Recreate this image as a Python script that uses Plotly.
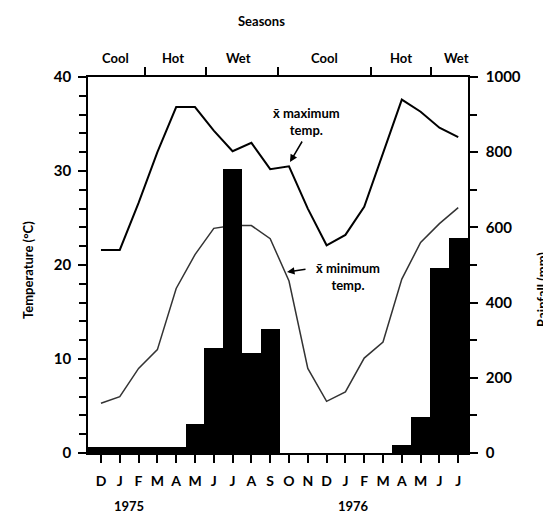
import plotly.graph_objects as go

# ---- data ----
month_labels = ["D", "J", "F", "M", "A", "M", "J", "J", "A", "S",
                "O", "N", "D", "J", "F", "M", "A", "M", "J", "J"]
month_idx = list(range(len(month_labels)))
rainfall_mm = [16, 16, 16, 16, 16, 78, 280, 755, 265, 330,
               0, 0, 0, 0, 0, 0, 22, 95, 492, 572]
max_temp = [21.6, 21.6, 26.6, 32.0, 36.8, 36.8, 34.3, 32.1, 33.0, 30.2,
            30.5, 26.0, 22.1, 23.2, 26.2, 32.0, 37.6, 36.3, 34.6, 33.6]
min_temp = [5.3, 6.0, 9.0, 11.0, 17.5, 21.1, 23.9, 24.2, 24.2, 22.8,
            18.3, 9.0, 5.5, 6.5, 10.1, 11.8, 18.5, 22.4, 24.4, 26.1]
season_names = ["Cool", "Hot", "Wet", "Cool", "Hot", "Wet"]
season_centers = [0.75, 3.85, 7.3, 11.9, 15.95, 18.9]
season_bounds = [2.35, 5.6, 9.4, 14.35, 17.55]
year_labels = ["1975", "1976"]
year_centers = [1.5, 13.45]

FONT = "Lato"
XR = [-0.69, 19.52]
PAGE_OFF = 8  # body margin of the page

# first bar reaches the left axis; others are one month wide, centred
bar_offsets = [XR[0]] + [-0.5] * (len(month_idx) - 1)
bar_widths = [0.5 - XR[0]] + [1.0] * (len(month_idx) - 1)

fig = go.Figure()
fig.add_trace(go.Bar(x=month_idx, y=rainfall_mm, width=bar_widths, offset=bar_offsets,
                     marker=dict(color="black", line=dict(width=0)),
                     yaxis="y2", xaxis="x", showlegend=False))
fig.add_trace(go.Scatter(x=month_idx, y=max_temp, mode="lines",
                         line=dict(color="black", width=2),
                         yaxis="y", xaxis="x", showlegend=False))
fig.add_trace(go.Scatter(x=month_idx, y=min_temp, mode="lines",
                         line=dict(color="#333333", width=1.5),
                         yaxis="y", xaxis="x", showlegend=False))
# invisible trace to activate top axis
fig.add_trace(go.Scatter(x=[XR[0]], y=[0], mode="markers", marker=dict(opacity=0),
                         xaxis="x2", yaxis="y", showlegend=False, hoverinfo="skip"))

fig.update_layout(
    width=551 - PAGE_OFF, height=521 - PAGE_OFF,
    margin=dict(l=88 - PAGE_OFF, r=83, t=77 - PAGE_OFF, b=68),
    paper_bgcolor="white", plot_bgcolor="white",
    font=dict(family=FONT, color="black", size=14),
    bargap=0,
    xaxis=dict(range=XR, tickmode="array", tickvals=month_idx, ticktext=month_labels,
               showgrid=False, zeroline=False, showline=True, linecolor="black",
               linewidth=1.5, ticks="outside", ticklen=8, tickwidth=1.5,
               tickcolor="black", ticklabelstandoff=6,
               tickfont=dict(family=FONT, size=14, weight="bold")),
    xaxis2=dict(range=XR, overlaying="x", side="top", tickmode="array",
                tickvals=season_bounds, showticklabels=False, showgrid=False,
                zeroline=False, showline=True, linecolor="black", linewidth=1.5,
                ticks="outside", ticklen=8, tickwidth=1.5, tickcolor="black"),
    yaxis=dict(range=[0, 40], tickmode="array", tickvals=[0, 10, 20, 30, 40],
               showgrid=False, zeroline=False, showline=True, linecolor="black",
               linewidth=1.5, ticks="outside", ticklen=8, tickwidth=1.5,
               tickcolor="black", ticklabelstandoff=4,
               minor=dict(dtick=2, ticks="outside", ticklen=7, tickwidth=1.5,
                          tickcolor="black", showgrid=False),
               tickfont=dict(family=FONT, size=15, weight="bold")),
    yaxis2=dict(range=[0, 1000], overlaying="y", side="right", tickmode="array",
                tickvals=[0, 200, 400, 600, 800, 1000],
                showgrid=False, zeroline=False, showline=True, linecolor="black",
                linewidth=1.5, ticks="outside", ticklen=8, tickwidth=1.5,
                tickcolor="black", ticklabelstandoff=5,
                minor=dict(dtick=100, ticks="outside", ticklen=7, tickwidth=1.5,
                           tickcolor="black", showgrid=False),
                tickfont=dict(family=FONT, size=15, weight="bold")),
)

ann = []
for name, c in zip(season_names, season_centers):
    ann.append(dict(x=c, y=1.0505, xref="x", yref="paper", text=name, showarrow=False,
                    font=dict(family=FONT, size=13, weight="bold"),
                    xanchor="center", yanchor="middle"))
ann.append(dict(x=(261 - 88) / 380, y=(453 - 21) / 376, xref="paper", yref="paper",
                text="Seasons", showarrow=False,
                font=dict(family=FONT, size=13, weight="bold"),
                xanchor="center", yanchor="middle"))
for yl, c in zip(year_labels, year_centers):
    ann.append(dict(x=c, y=(453 - 506) / 376, xref="x", yref="paper", text=yl,
                    showarrow=False, font=dict(family=FONT, size=13, weight="bold"),
                    xanchor="center", yanchor="middle"))
ann.append(dict(x=(28 - 88) / 380, y=(453 - 270) / 376, xref="paper", yref="paper",
                text="Temperature (°C)", textangle=-90, showarrow=False,
                font=dict(family=FONT, size=13, weight="bold"),
                xanchor="center", yanchor="middle"))
ann.append(dict(x=(542 - 88) / 380, y=(453 - 290) / 376, xref="paper", yref="paper",
                text="Rainfall (mm)", textangle=-90, showarrow=False,
                font=dict(family=FONT, size=13, weight="bold"),
                xanchor="center", yanchor="middle"))
# line labels
ann.append(dict(x=(306 - 88) / 380, y=(453 - 121) / 376, xref="paper", yref="paper",
                text="x̄ maximum<br>temp.", showarrow=False, align="center",
                font=dict(family=FONT, size=13, weight="bold"),
                xanchor="center", yanchor="middle"))
ann.append(dict(x=(348 - 88) / 380, y=(453 - 276) / 376, xref="paper", yref="paper",
                text="x̄ minimum<br>temp.", showarrow=False, align="center",
                font=dict(family=FONT, size=13, weight="bold"),
                xanchor="center", yanchor="middle"))
# arrows
ann.append(dict(x=(290 - 88) / 380, y=(453 - 162) / 376, xref="paper", yref="paper",
                text="", showarrow=True, ax=13, ay=-22, arrowhead=2, arrowsize=1,
                arrowwidth=1.5, arrowcolor="black"))
ann.append(dict(x=(287 - 88) / 380, y=(453 - 272) / 376, xref="paper", yref="paper",
                text="", showarrow=True, ax=20, ay=-3, arrowhead=2, arrowsize=1,
                arrowwidth=1.5, arrowcolor="black"))
fig.update_layout(annotations=ann)

fig.write_html("out.html")
